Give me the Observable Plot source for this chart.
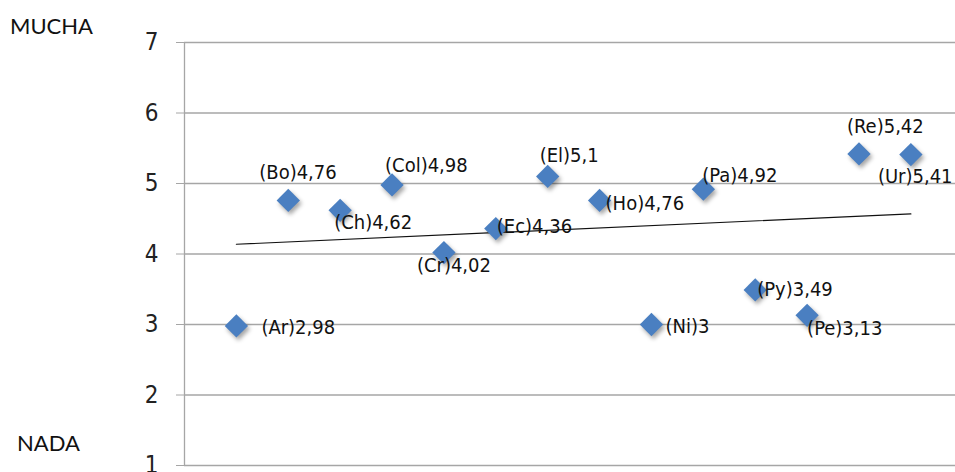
<!DOCTYPE html>
<html>
<head>
<meta charset="utf-8">
<script src="https://cdn.jsdelivr.net/npm/d3@7"></script>
<script src="https://cdn.jsdelivr.net/npm/@observablehq/plot@0.6"></script>
<style>
  html, body { margin: 0; padding: 0; background: #fff; }
  #wrap { position: relative; width: 955px; height: 472px; }
  .side { position: absolute; font-family: Lato, "Open Sans", sans-serif; font-size: 22px; color: #111; }
  g[aria-label="dot"] path { filter: drop-shadow(2px 3px 2px rgba(0,0,0,0.35)); }
</style>
</head>
<body>
<div id="wrap">
  <div class="side" style="left:10px; top:12px;">MUCHA</div>
  <div class="side" style="left:17px; top:429px;">NADA</div>
</div>
<script>
// Data
const codes = ["Ar", "Bo", "Ch", "Col", "Cr", "Ec", "El", "Ho", "Ni", "Pa", "Py", "Pe", "Re", "Ur"];
const values = [2.98, 4.76, 4.62, 4.98, 4.02, 4.36, 5.1, 4.76, 3, 4.92, 3.49, 3.13, 5.42, 5.41];
const yTicks = [1, 2, 3, 4, 5, 6, 7];

// Label offsets (style only: dx, dy in px)
const labelOffsets = [
  [25, 2], [-29, -28], [-6, 12], [-7, -19], [-27, 13], [1, -2], [-8, -21],
  [6, 3], [14, 2], [-1, -14], [2, 0], [0, 13], [-12, -27], [-33, 22]
];

const data = codes.map((c, i) => ({
  idx: i + 1,
  code: c,
  value: values[i],
  label: `(${c})${String(values[i]).replace(".", ",")}`
}));

const gridColor = "#a6a6a6";

const labelMarks = data.map((d, i) => Plot.text([d], {
  x: "idx", y: "value", text: "label",
  dx: labelOffsets[i][0], dy: labelOffsets[i][1],
  textAnchor: "start",
  fontSize: 20,
  fontFamily: "DejaVu Sans Condensed",
  fill: "#111"
}));

const chart = Plot.plot({
  width: 955,
  height: 472,
  marginLeft: 184,
  marginRight: 0,
  marginTop: 42,
  marginBottom: 7,
  style: { background: "transparent", overflow: "visible" },
  x: { domain: [0, 14.86], axis: null },
  y: { domain: [1, 7], axis: null },
  marks: [
    Plot.ruleY(yTicks, { stroke: gridColor, strokeWidth: 1.3 }),
    Plot.ruleX([0], { stroke: gridColor, strokeWidth: 1.3 }),
    Plot.axisY({
      ticks: yTicks,
      tickSize: 8,
      tickPadding: 18,
      stroke: gridColor,
      strokeOpacity: 1,
      fontSize: 24,
      fontFamily: "DejaVu Sans Condensed",
      fill: "#222",
      label: null,
      tickFormat: d => String(d)
    }),
    Plot.linearRegressionY(data, { x: "idx", y: "value", ci: 0, stroke: "#111", strokeWidth: 1.2 }),
    Plot.dot(data, { x: "idx", y: "value", symbol: "diamond2", r: 10.5, fill: "#4a7fc1", stroke: "none" }),
    ...labelMarks
  ]
});
chart.style.position = "absolute";
chart.style.left = "0px";
chart.style.top = "0px";
document.getElementById("wrap").appendChild(chart);
</script>
</body>
</html>
